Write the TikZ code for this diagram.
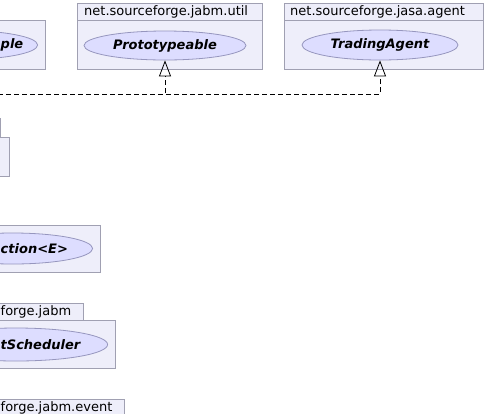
\documentclass[tikz,border=0pt]{standalone}
\usepackage{fontspec}
\setmainfont{DejaVu Sans}
\usetikzlibrary{positioning, shapes.geometric, arrows.meta}

\definecolor{pkgfill}{RGB}{238,238,250}
\definecolor{pkgline}{RGB}{160,160,178}
\definecolor{iffill}{RGB}{221,221,255}
\definecolor{ifline}{RGB}{150,150,190}
\newcommand{\umlfont}{\fontsize{13}{15.5}\selectfont}

\begin{document}
\begin{tikzpicture}[x=1pt, y=-1pt, font=\umlfont,
        tab/.style={draw=pkgline, fill=pkgfill, line width=0.9pt, minimum height=17pt, inner sep=0pt},
        body/.style={draw=pkgline, fill=pkgfill, line width=0.9pt, inner sep=0pt},
        iface/.style={ellipse, draw=ifline, fill=iffill, line width=0.8pt, inner sep=0pt, minimum height=29pt, font=\umlfont\bfseries\itshape},
        ifname/.style={inner sep=0pt, anchor=west, font=\umlfont\bfseries\itshape},
        pkgname/.style={inner sep=0pt},
        realize/.style={line width=0.8pt, dash pattern=on 5pt off 3pt, -{Triangle[open, length=16pt, width=12pt]}},
        hv/.style={to path={-| (\tikztotarget)}}
    ]
        \useasboundingbox (0,0) rectangle (486,413);
        \clip (0,0) rectangle (486,413);

        % top row
        \node[body, minimum width=170pt, minimum height=49pt, anchor=north east] (leftbody) at (46,20) {};
        \node[iface, minimum width=150pt, anchor=east] (leftif) at (38,45) {};
        \node[ifname] at (0.5,45) {ple};

        \node[tab, minimum width=185pt, anchor=north west] (utiltab) at (77,3) {};
        \node[body, minimum width=185pt, minimum height=49pt, anchor=north west] (utilbody) at (77,20) {};
        \node[pkgname, right=7pt of utiltab.west] {net.sourceforge.jabm.util};
        \node[iface, minimum width=162pt] (proto) at (165,45.5) {Prototypeable};

        \node[tab, minimum width=199pt, anchor=north west] (agenttab) at (284,3) {};
        \node[body, minimum width=199pt, minimum height=49pt, anchor=north west] (agentbody) at (284,20) {};
        \node[pkgname, right=6pt of agenttab.west] {net.sourceforge.jasa.agent};
        \node[iface, minimum width=156pt, minimum height=30pt] (agent) at (380,45) {TradingAgent};

        % left column
        \node[tab, minimum width=100pt, minimum height=19pt, anchor=north east] (btab) at (1,118) {};
        \node[body, minimum width=100pt, minimum height=39pt, anchor=north east] (bbody) at (10,137) {};

        \node[body, minimum width=176pt, minimum height=47pt, anchor=north east] (collbody) at (101,225) {};
        \node[iface, minimum width=160pt, minimum height=31pt, anchor=east] (coll) at (93,248.5) {};
        \node[ifname] at (0.5,248.5) {ction<E>};

        \node[tab, minimum width=160pt, anchor=north east] (jabmtab) at (84,303) {};
        \node[body, minimum width=190pt, minimum height=48pt, anchor=north east] (jabmbody) at (116,320) {};
        \node[pkgname, anchor=west] at (0.5,311.5) {forge.jabm};
        \node[iface, minimum width=183pt, minimum height=33pt, anchor=east] (sched) at (108,344.5) {};
        \node[ifname] at (0.5,344.5) {tScheduler};

        \node[tab, minimum width=180pt, anchor=north east] (eventtab) at (125,399) {};
        \node[pkgname, anchor=west] at (0.5,407.5) {forge.jabm.event};

        \coordinate (impl) at (-10,94);
        \draw[realize]
            (impl) edge[hv] (proto)
            (impl) edge[hv] (agent)
            ;
    \end{tikzpicture}
\end{document}
